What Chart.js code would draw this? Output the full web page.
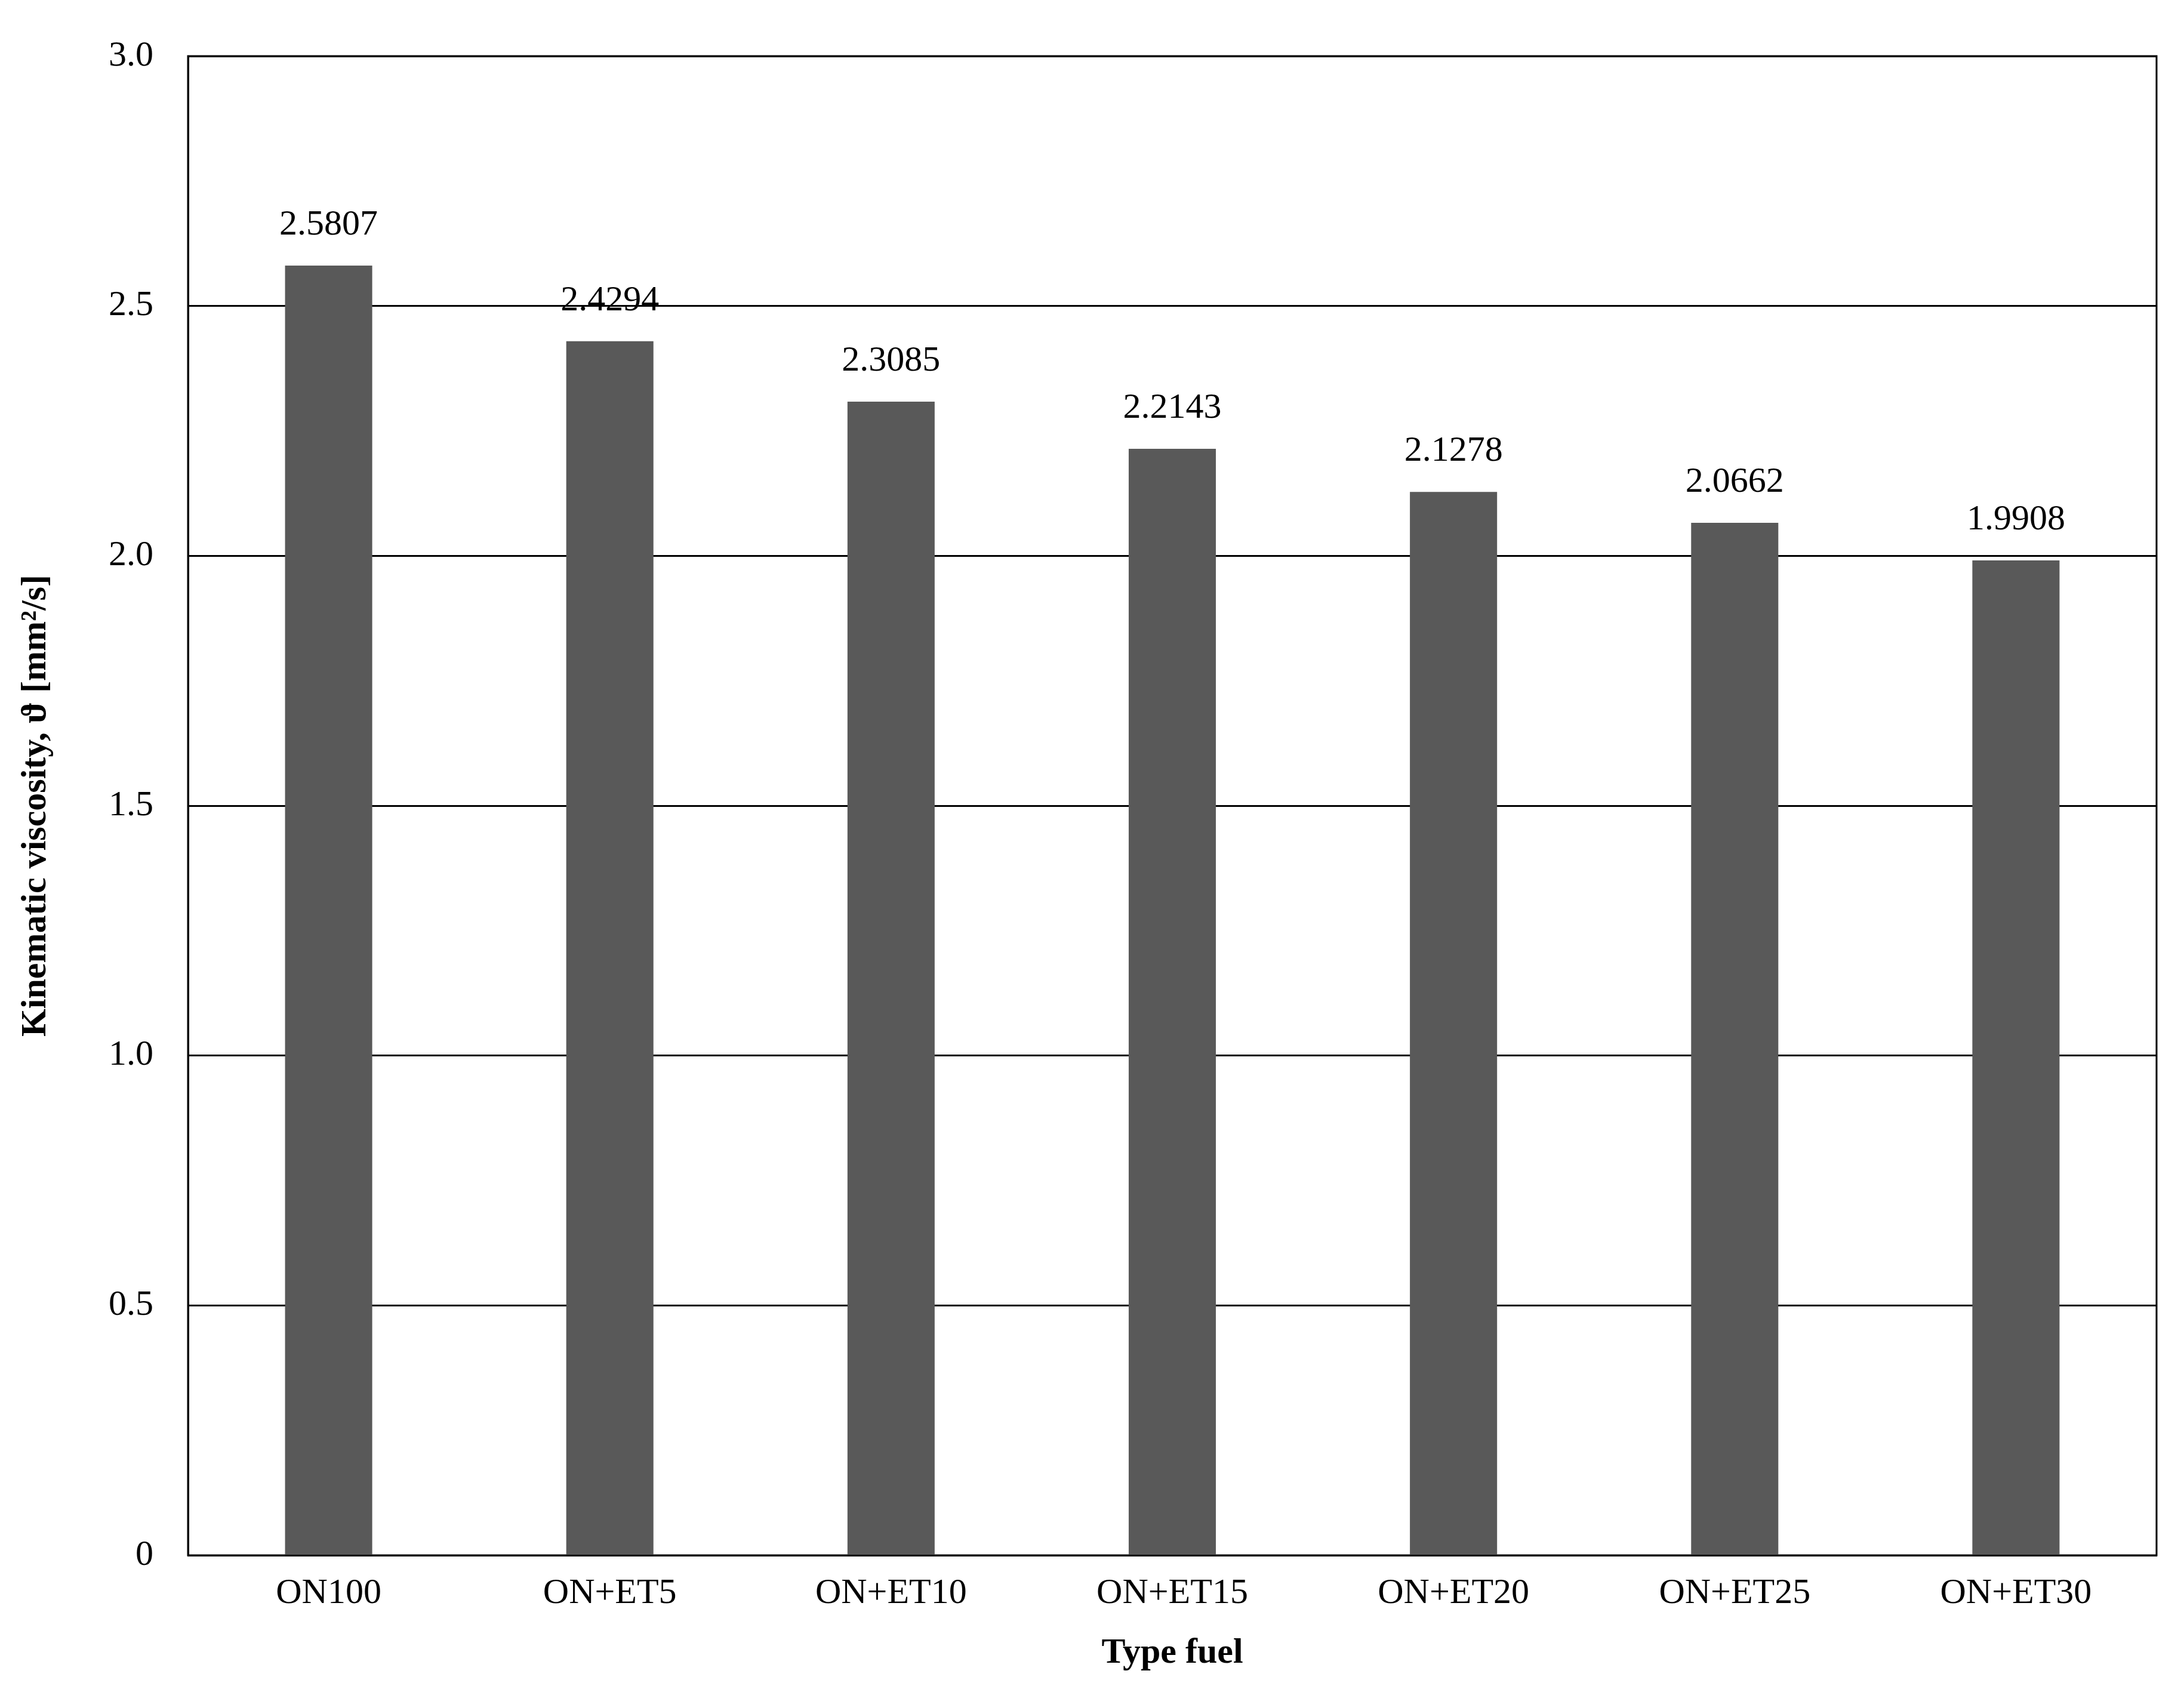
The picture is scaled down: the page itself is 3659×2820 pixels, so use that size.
<!DOCTYPE html>
<html>
<head>
<meta charset="utf-8">
<script src="https://cdn.jsdelivr.net/npm/chart.js@4/dist/chart.umd.min.js"></script>
<style>
  body { margin:0; background:#fff; }
  #wrap { width:3659px; height:2820px; }
</style>
</head>
<body>
<div id="wrap"><canvas id="c" width="3659" height="2820"></canvas></div>
<script>
const fuels = ['ON100','ON+ET5','ON+ET10','ON+ET15','ON+ET20','ON+ET25','ON+ET30'];
const viscosity = [2.5807, 2.4294, 2.3085, 2.2143, 2.1278, 2.0662, 1.9908];
const yTicks = [0, 0.5, 1, 1.5, 2, 2.5, 3];

const FONT = '"Liberation Serif", "Times New Roman", serif';

// frame around the plot area + value labels over bars
const extras = {
  id: 'extras',
  afterDatasetsDraw(chart){
    const {ctx, chartArea:a} = chart;
    ctx.save();
    ctx.strokeStyle = '#000'; ctx.lineWidth = 3;
    ctx.strokeRect(a.left, a.top, a.right-a.left, a.bottom-a.top);
    ctx.fillStyle = '#000';
    ctx.font = '60px ' + FONT;
    ctx.textAlign = 'center'; ctx.textBaseline = 'bottom';
    chart.getDatasetMeta(0).data.forEach((bar, i) => {
      ctx.fillText(viscosity[i].toFixed(4), bar.x, bar.y - 38);
    });
    ctx.restore();
  }
};

new Chart(document.getElementById('c'), {
  type: 'bar',
  data: { labels: fuels, datasets: [{ data: viscosity, backgroundColor: '#595959', categoryPercentage: 1, barPercentage: 0.31 }] },
  options: {
    responsive: false, animation: false, devicePixelRatio: 1,
    layout: { padding: { top: 30, right: 46, left: 20, bottom: 10 } },
    plugins: { legend: { display: false }, tooltip: { enabled: false } },
    scales: {
      x: {
        grid: { display: false, drawTicks: false },
        border: { color: '#000', width: 3 },
        ticks: { color: '#000', font: { family: FONT, size: 60 }, padding: 28, maxRotation: 0 },
        title: { display: true, text: 'Type fuel', color: '#000', font: { family: FONT, size: 60, weight: 'bold' }, padding: { top: 0 } }
      },
      y: {
        min: 0, max: 3,
        afterBuildTicks: s => { s.ticks = yTicks.map(v => ({ value: v })); },
        grid: { color: '#000', lineWidth: 3, drawTicks: false },
        border: { color: '#000', width: 3 },
        ticks: { color: '#000', font: { family: FONT, size: 60 }, padding: 58 },
        title: { display: true, text: 'Kinematic viscosity, ϑ [mm²/s]', color: '#000', font: { family: FONT, size: 60, weight: 'bold' }, padding: { bottom: 28 } }
      }
    }
  },
  plugins: [extras]
});
</script>
</body>
</html>
